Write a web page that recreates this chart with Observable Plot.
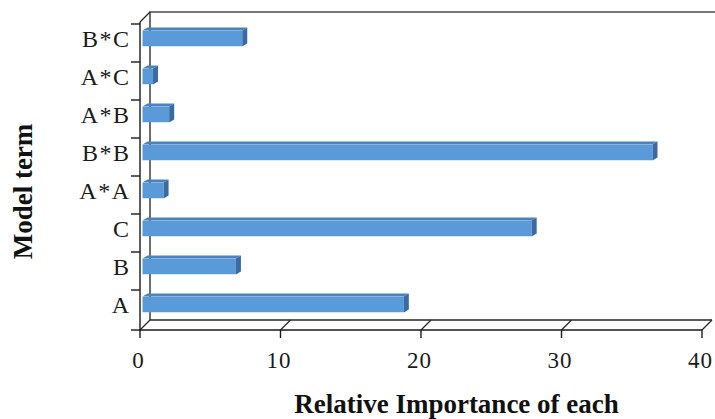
<!DOCTYPE html>
<html>
<head>
<meta charset="utf-8">
<script src="https://cdn.jsdelivr.net/npm/d3@7"></script>
<script src="https://cdn.jsdelivr.net/npm/@observablehq/plot@0.6"></script>
<style>
  html, body { margin: 0; padding: 0; background: #fff; }
</style>
</head>
<body>
<div id="chart"></div>
<script>
const terms = ["B*C", "A*C", "A*B", "B*B", "A*A", "C", "B", "A"];
const importance = [7.1, 0.75, 1.9, 36.3, 1.5, 27.7, 6.65, 18.6];
const xTicks = [0, 10, 20, 30, 40];
const xTitle = "Relative Importance of each";
const yTitle = "Model term";

const data = terms.map((t, i) => ({term: t, value: importance[i]}));

const FRONT = "#5A9AD8", TOP = "#4A82C0", SIDE = "#3A6AA3";
const DEPTH = [10, -10];     // depth of the 3D box (pixels)
const BAR_SHIFT = [2.5, -4.5]; // bar front face offset inside the box
const BAR_DEPTH = [5, -3];
const BAR_H = 16;

function frame3d(index, scales, values, dim) {
  const {x, y} = scales;
  const g = d3.create("svg:g").attr("fill", "none").attr("stroke", "#262626").attr("stroke-width", 1.3);
  const x0 = x(0), x1 = x(xTicks[xTicks.length - 1]);
  const yTop = dim.marginTop, yBot = dim.height - dim.marginBottom;
  const [dx, dy] = DEPTH;
  g.append("path").attr("d", `M${x0 + dx},${yBot + dy}V${yTop + dy}H${dim.width}`).attr("stroke", "#4a4a4a").attr("stroke-width", 1.6);
  g.append("path").attr("d", `M${x0 + dx},${yBot + dy}H${x1 + dx}`);
  for (const t of xTicks) {
    g.append("path").attr("d", `M${x(t)},${yBot}L${x(t) + dx},${yBot + dy}`);
  }
  g.append("path").attr("d", `M${x0},${yTop}L${x0 + dx},${yTop + dy}`);
  return g.node();
}

function frontAxes(index, scales, values, dim) {
  const {x, y} = scales;
  const g = d3.create("svg:g").attr("fill", "none").attr("stroke", "#1a1a1a").attr("stroke-width", 1.4);
  const x0 = x(0), x1 = x(xTicks[xTicks.length - 1]);
  const yTop = dim.marginTop, yBot = dim.height - dim.marginBottom;
  g.append("path").attr("d", `M${x0},${yTop}V${yBot}H${x1}`);
  const bounds = terms.map(t => y(t)).concat([yBot]);
  for (const b of bounds) g.append("path").attr("d", `M${x0 - 9},${b}H${x0}`);
  for (const t of xTicks) g.append("path").attr("d", `M${x(t)},${yBot}V${yBot + 8}`);
  return g.node();
}

function barFaces(index, scales, values, dim) {
  const {x, y} = scales;
  const bw = y(terms[1]) - y(terms[0]);
  const g = d3.create("svg:g").attr("stroke", "none");
  const [bx, by] = BAR_DEPTH;
  for (const d of data) {
    const xs = x(0) + BAR_SHIFT[0], xe = x(d.value) + BAR_SHIFT[0];
    const yc = y(d.term) + bw / 2 + BAR_SHIFT[1];
    const t = yc - BAR_H / 2, b = yc + BAR_H / 2;
    g.append("path").attr("d", `M${xs},${t}L${xs + bx},${t + by}L${xe + bx},${t + by}L${xe},${t}Z`).attr("fill", TOP);
    g.append("path").attr("d", `M${xe},${t}L${xe + bx},${t + by}L${xe + bx},${b + by}L${xe},${b}Z`).attr("fill", SIDE);
  }
  return g.node();
}

const chart = Plot.plot({
  width: 715,
  height: 419,
  marginLeft: 140,
  marginRight: 13,
  marginTop: 22,
  marginBottom: 89,
  style: {fontFamily: "'Liberation Serif', 'Times New Roman', serif", background: "#fff", color: "#1a1a1a", overflow: "visible"},
  x: {domain: [0, 40], axis: null},
  y: {domain: terms, paddingInner: 0, paddingOuter: 0, axis: null},
  marks: [
    frame3d,
    Plot.barX(data, {
      x: "value", y: "term", fill: FRONT,
      dx: BAR_SHIFT[0], dy: BAR_SHIFT[1],
      insetTop: (38.5 - BAR_H) / 2, insetBottom: (38.5 - BAR_H) / 2
    }),
    barFaces,
    frontAxes,
    Plot.text(terms, {
      y: d => d, text: d => d, frameAnchor: "left", textAnchor: "end", lineAnchor: "middle",
      dx: -10, dy: BAR_SHIFT[1] + 0.5, fontSize: 24, fill: "#1a1a1a"
    }),
    Plot.text(xTicks, {
      x: d => d, text: d => String(d), frameAnchor: "bottom", textAnchor: "middle", lineAnchor: "middle",
      dx: -2, dy: 30, fontSize: 23, fill: "#1a1a1a"
    }),
    Plot.text([xTitle], {
      text: d => d, frameAnchor: "bottom", textAnchor: "middle", lineAnchor: "middle", dx: 35, dy: 74,
      fontSize: 27, fontWeight: "bold", fill: "#111"
    }),
    Plot.text([yTitle], {
      text: d => d, frameAnchor: "left", textAnchor: "middle", lineAnchor: "middle", rotate: -90, dx: -117, dy: 15,
      fontSize: 27, fontWeight: "bold", fill: "#111"
    })
  ]
});

chart.querySelectorAll("text").forEach(t => {
  const s = t.textContent;
  if (terms.includes(s)) t.style.letterSpacing = "1.5px";
  else if (xTicks.map(String).includes(s)) t.style.letterSpacing = "1px";
});

document.getElementById("chart").appendChild(chart);
</script>
</body>
</html>
